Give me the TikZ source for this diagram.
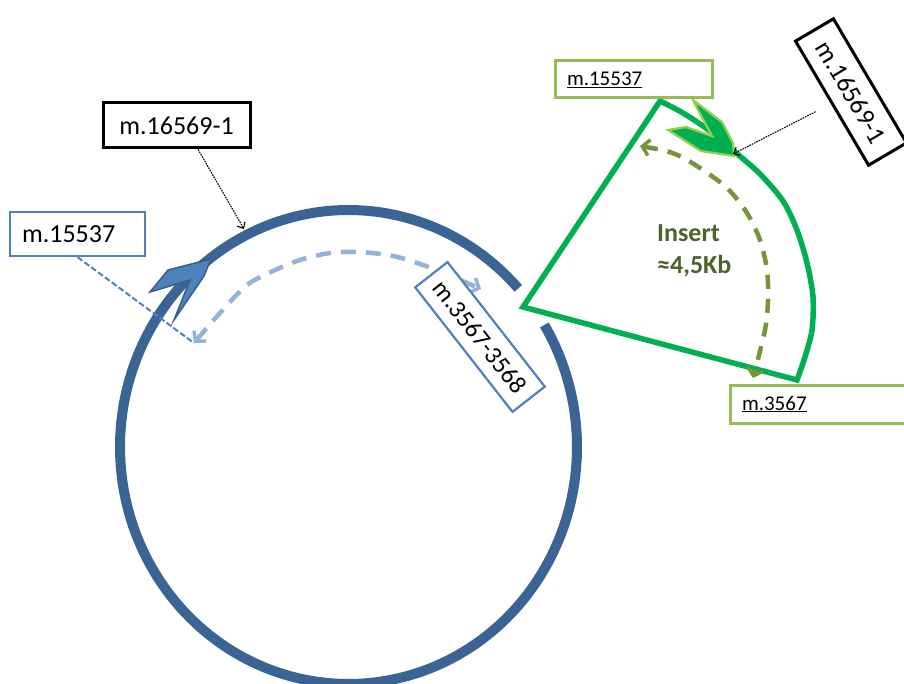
\documentclass[tikz,border=0pt]{standalone}
\usepackage{fontspec}
\setmainfont{Carlito}
\usetikzlibrary{arrows.meta,calc}
\definecolor{ringblue}{HTML}{3A6494}
\definecolor{chevblue}{HTML}{4F81BD}
\definecolor{chevblueline}{HTML}{385D8A}
\definecolor{lightblue}{HTML}{95B3D7}
\definecolor{insgreen}{HTML}{00B050}
\definecolor{limegreen}{HTML}{92D050}
\definecolor{olivedash}{HTML}{77933C}
\definecolor{olivetext}{HTML}{4F6228}
\definecolor{boxgreen}{HTML}{9BBB59}
\tikzset{
  ring/.style={draw=ringblue,line width=10pt,line cap=butt},
  insertline/.style={draw=insgreen,line width=5.5pt,line join=miter},
  blackbox/.style={draw=black,line width=3pt,fill=white,inner sep=0pt,
    font=\fontsize{26}{30}\selectfont},
  bluebox/.style={draw=chevblue,line width=2.2pt,fill=white,inner ysep=0pt,
    font=\fontsize{26}{30}\selectfont},
  greenbox/.style={draw=boxgreen,line width=3pt,fill=white,inner ysep=0pt,
    inner xsep=12pt,align=left,font=\fontsize{21}{25}\selectfont},
  blackconn/.style={draw=black,line width=1.1pt,dash pattern=on 1.6pt off 1pt,
    -{Straight Barb[length=5pt,width=9pt,line width=1.1pt]}},
  blueconn/.style={draw=chevblue,line width=2pt,dash pattern=on 6pt off 2.5pt},
  lbarrow/.style={draw=lightblue,line width=4.5pt,dash pattern=on 15pt off 10pt,
    {Straight Barb[length=7pt,width=16pt,line width=3.5pt]}-{Straight Barb[length=7pt,width=16pt,line width=3.5pt]}},
  olarrow/.style={draw=olivedash,line width=4.5pt,dash pattern=on 14pt off 10pt,
    {Straight Barb[length=7pt,width=16pt,line width=3.5pt]}-{Straight Barb[length=7pt,width=16pt,line width=3.5pt]}},
}
\begin{document}
\begin{tikzpicture}[x=1pt,y=-1pt]
\useasboundingbox (0,0) rectangle (904,684);
\clip (0,0) rectangle (904,684);
\fill[white] (0,0) rectangle (904,684);

% plasmid ring with gap
\draw[ring] plot[domain=42:391,samples=240] ({348.5+228.5*cos(\x)},{447-237*sin(\x)});
% blue chevron on ring
\filldraw[fill=chevblue,draw=chevblueline,line width=1.5pt,line join=miter]
  (211,259) -- (168,270) -- (150,292) -- (190,280) -- (174,320) -- (204,276) -- cycle;

% insert sector
\draw[insertline] (523,307) -- (660,101) -- plot[smooth] coordinates
  {(660,101) (683,113) (710,131) (735,152) (760,174) (783,201) (797,230) (807,263) (813,297) (812,330) (805,357) (797,380)} -- cycle;
% green chevron
\filldraw[fill=insgreen,draw=limegreen,line width=2.2pt,line join=miter]
  (693,100) -- (722,122) -- (733,143) -- (734,156) -- (701,151) -- (668,130) -- (686,127) -- (712,136) -- (699,112) -- cycle;

% dashed double arrows
\coordinate (bluetip) at (194,343);
\coordinate (bluehead) at (481,289);
\draw[lbarrow] plot[smooth] coordinates
  {(bluetip) (220,313) (247,285) (273,271) (300,260) (330,253) (360,252) (393,256) (423,265) (453,277) (bluehead)};
\coordinate (olstart) at (640,146);
\coordinate (olend) at (753,378);
\draw[olarrow] plot[smooth] coordinates
  {(olstart) (675,154) (703,170) (728,189) (747,213) (760,240) (767,270) (768,300) (765,330) (olend)};

% labels
\node[blackbox,minimum width=147pt,minimum height=45pt] (l16569) at (176.5,125.5) {m.16569-1};
\node[bluebox,inner xsep=12pt,text width=111pt,minimum height=44pt,align=left] (l15537) at (77.5,234) {m.15537};
\node[bluebox,inner sep=0pt,minimum width=158pt,minimum height=41pt,rotate=-52,
  font=\fontsize{25}{30}\selectfont] (l3567) at (480,337) {m.3567-3568};
\node[greenbox,text width=133pt,minimum height=37pt] (g15537) at (633.5,79.5) {\underline{m.15537}};
\node[greenbox,text width=176pt,minimum height=38pt] (g3567) at (830,404) {\underline{m.3567}};
\node[blackbox,minimum width=144pt,minimum height=44pt,rotate=-59.5] (r16569) at (851,92) {m.16569-1};

\node[anchor=north west,align=left,inner sep=0pt,text=olivetext,
  font=\bfseries\fontsize{26}{32}\selectfont] (ins) at (657,224) {Insert\\≈4,5Kb};

% connectors
\coordinate (ringpt) at (244,229);
\coordinate (gtip) at (733,154);
\draw[blackconn] (l16569.-48) -- (ringpt);
\draw[blackconn,shorten <=17pt] (r16569.south) -- (gtip);
\draw[blueconn] (l15537.south) -- (bluetip);
\end{tikzpicture}
\end{document}
